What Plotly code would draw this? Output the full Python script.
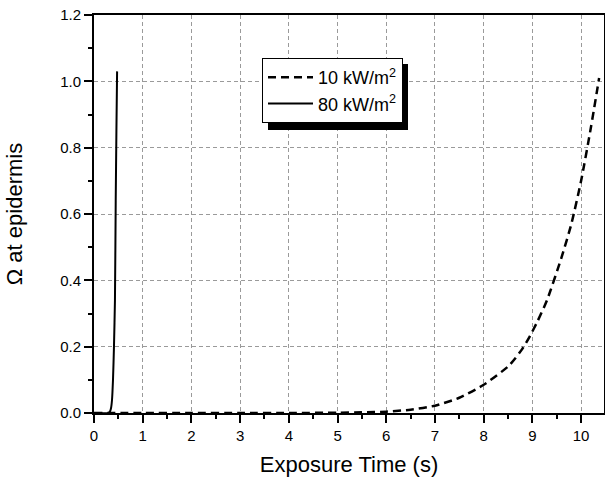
import plotly.graph_objects as go

# ---- data ----
t_10kw = [0, 1, 2, 3, 4, 5, 5.5, 6, 6.5, 7, 7.5, 8, 8.5, 8.65, 8.8, 8.95, 9.1, 9.3, 9.6, 9.8, 10.0, 10.2, 10.37]
omega_10kw = [0, 0, 0, 0, 0, 0.001, 0.002, 0.004, 0.01, 0.022, 0.046, 0.085, 0.14, 0.165, 0.195, 0.232, 0.275, 0.34, 0.47, 0.57, 0.70, 0.86, 1.01]

t_80kw = [0, 0.30, 0.33, 0.35, 0.37, 0.39, 0.41, 0.43, 0.446, 0.46, 0.474]
omega_80kw = [0, 0, 0.005, 0.015, 0.04, 0.1, 0.2, 0.34, 0.64, 0.85, 1.03]

x_ticks = list(range(0, 11))
y_ticks = [0.0, 0.2, 0.4, 0.6, 0.8, 1.0, 1.2]

FONT = "Liberation Sans, Arial, Helvetica, sans-serif"

fig = go.Figure()
fig.add_trace(go.Scatter(
    x=t_10kw, y=omega_10kw, mode="lines", name="10 kW/m<sup>2</sup>",
    line=dict(color="black", width=2.5, dash="8px,5px", shape="spline", smoothing=0.6),
))
fig.add_trace(go.Scatter(
    x=t_80kw, y=omega_80kw, mode="lines", name="80 kW/m<sup>2</sup>",
    line=dict(color="black", width=2, shape="spline", smoothing=0.5),
))

# legend drop shadow (paper coords)
L, R, T, B = 94, 604, 15, 413
def px_x(p):
    return (p - L) / (R - L)
def px_y(p):
    return (B - p) / (B - T)

fig.add_shape(type="rect", xref="paper", yref="paper",
              x0=px_x(268), x1=px_x(408), y0=px_y(130), y1=px_y(64),
              fillcolor="black", line=dict(width=0), layer="above")

axis_common = dict(
    showline=True, linecolor="black", linewidth=2, mirror=True,
    ticks="outside", ticklen=8, tickwidth=2, tickcolor="black",
    showgrid=True, gridcolor="#9a9a9a", gridwidth=1, griddash="4px,3px",
    zeroline=False,
    tickfont=dict(family=FONT, size=15, color="black"),
)

fig.update_xaxes(
    range=[0, 10.47], tickvals=x_ticks,
    minor=dict(dtick=0.5, ticks="outside", ticklen=4, tickwidth=2, tickcolor="black", showgrid=False),
    title=dict(text="Exposure Time (s)", font=dict(family=FONT, size=22, color="black"), standoff=14),
    **axis_common,
)
fig.update_yaxes(
    range=[0, 1.2], tickvals=y_ticks, tickformat=".1f",
    minor=dict(dtick=0.1, ticks="outside", ticklen=4, tickwidth=2, tickcolor="black", showgrid=False),
    title=dict(text="Ω at epidermis", font=dict(family=FONT, size=22, color="black"), standoff=31),
    **axis_common,
)

fig.update_layout(
    width=605, height=479,
    margin=dict(l=L, r=605 - R, t=T, b=479 - B, autoexpand=False),
    paper_bgcolor="white", plot_bgcolor="white",
    font=dict(family=FONT, color="black"),
    showlegend=True,
    legend=dict(
        x=px_x(262), y=px_y(58), xanchor="left", yanchor="top",
        bgcolor="white", bordercolor="black", borderwidth=1,
        font=dict(family=FONT, size=18, color="black"),
        tracegroupgap=0, itemwidth=45,
    ),
)

fig.write_html("out.html", config={"displayModeBar": False},
               post_script="document.body.style.margin='0';")
